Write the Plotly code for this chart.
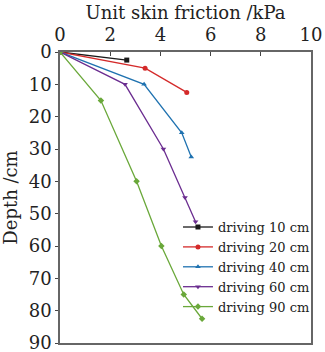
import plotly.graph_objects as go

names = ["driving 10 cm", "driving 20 cm", "driving 40 cm", "driving 60 cm", "driving 90 cm"]
friction = [
    [0, 2.66],
    [0, 3.39, 5.05],
    [0, 3.35, 4.85, 5.23],
    [0, 2.59, 4.12, 4.98, 5.4],
    [0, 1.63, 3.05, 4.04, 4.93, 5.66],
]
depth = [
    [0, 2.5],
    [0, 5, 12.5],
    [0, 10, 25, 32.5],
    [0, 10, 30, 45, 52.5],
    [0, 15, 40, 60, 75, 82.5],
]
colors = ["#1a1a1a", "#d42a2a", "#1f72b0", "#6b2d90", "#6aa83a"]
symbols = ["square", "circle", "triangle-up", "triangle-down", "diamond"]

fig = go.Figure()
for n, x, y, c, s in zip(names, friction, depth, colors, symbols):
    fig.add_trace(go.Scatter(x=x, y=y, name=n, mode="lines+markers",
                             line=dict(color=c, width=1.3),
                             marker=dict(symbol=s, size=5, color=c)))

font = "DejaVu Serif"
fig.update_layout(
    width=325, height=352,
    margin=dict(l=60, r=14, t=52, b=9, autoexpand=False),
    plot_bgcolor="white", paper_bgcolor="white",
    font=dict(family=font, size=18, color="#222"),
    showlegend=True,
    legend=dict(x=0.47, y=0.45, xanchor="left", yanchor="top",
                bgcolor="rgba(0,0,0,0)", font=dict(size=13, family=font),
                itemwidth=30, tracegroupgap=0),
    xaxis=dict(range=[0, 10], side="top", tickvals=[0, 2, 4, 6, 8, 10],
               ticks="inside", ticklen=4, showgrid=False, zeroline=False,
               showline=True, mirror=True, linecolor="#666", linewidth=1.5,
               automargin=False, ticklabeloverflow="allow", ticklabelstandoff=2,
               title=dict(text="Unit skin friction /kPa", font=dict(size=18), standoff=0)),
    yaxis=dict(range=[90, 0], tickvals=list(range(0, 91, 10)),
               ticks="outside", ticklen=3, showgrid=False, zeroline=False,
               showline=True, mirror=True, linecolor="#666", linewidth=1.5,
               automargin=False, ticklabeloverflow="allow",
               title=dict(text="Depth /cm", font=dict(size=18), standoff=6)),
)
fig.write_html("out.html", config={"displayModeBar": False},
               post_script="document.body.style.margin='0';document.body.style.overflow='hidden';")
